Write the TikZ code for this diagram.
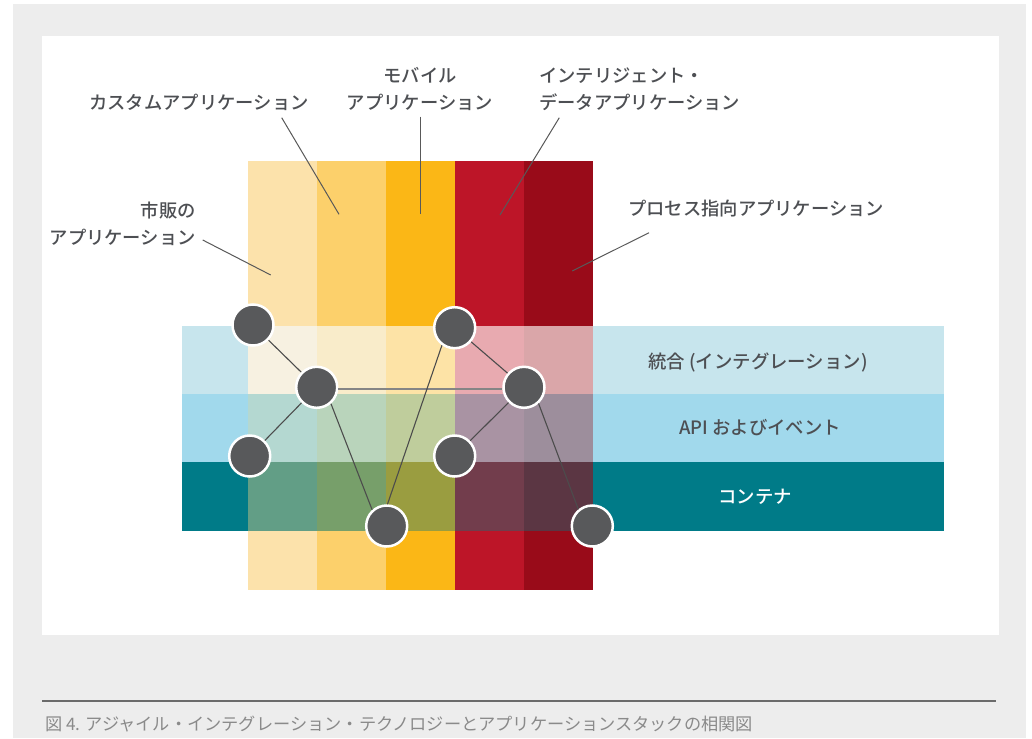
\documentclass[tikz,border=0pt]{standalone}
\usepackage{fontspec}
\setmainfont{Noto Sans CJK JP}[UprightFont=* Medium]
\newfontfamily\capfont{Noto Sans CJK JP}
\usetikzlibrary{calc}
\definecolor{bggray}{HTML}{EDEDED}
\definecolor{txt}{HTML}{4D4F53}
\definecolor{captxt}{HTML}{8A8A8A}
\definecolor{dotgray}{HTML}{58595B}
\definecolor{col1}{HTML}{FCE2AB}
\definecolor{col2}{HTML}{FCD06B}
\definecolor{col3}{HTML}{FBB716}
\definecolor{col4}{HTML}{BD1528}
\definecolor{col5}{HTML}{990B19}
\definecolor{band1}{HTML}{C7E5ED}
\definecolor{band2}{HTML}{A1D9EC}
\definecolor{band3}{HTML}{007B88}
\definecolor{ov11}{HTML}{F7F1E1}
\definecolor{ov12}{HTML}{F9ECCA}
\definecolor{ov13}{HTML}{FDE3A6}
\definecolor{ov14}{HTML}{E8AAB0}
\definecolor{ov15}{HTML}{DAA6A9}
\definecolor{ov21}{HTML}{B4D8D1}
\definecolor{ov22}{HTML}{B9D4BB}
\definecolor{ov23}{HTML}{BFCD9C}
\definecolor{ov24}{HTML}{A993A3}
\definecolor{ov25}{HTML}{9D8E9C}
\definecolor{ov31}{HTML}{629E86}
\definecolor{ov32}{HTML}{779F6A}
\definecolor{ov33}{HTML}{9A9D40}
\definecolor{ov34}{HTML}{723D4C}
\definecolor{ov35}{HTML}{5B3643}
\tikzset{
  dot/.style={circle, fill=dotgray, draw=white, line width=2.5pt, minimum size=41pt, inner sep=0pt},
  edge/.style={draw=black!70, line width=1.1pt},
  hedge/.style={draw=black!48, line width=2pt},
  leader/.style={draw=black!65, line width=1pt},
  lbl/.style={text=txt, font=\fontsize{18.3}{27}\selectfont, inner sep=0pt},
  bandlbl/.style={text=txt, font=\fontsize{18.4}{24}\selectfont, inner sep=0pt},
}
\begin{document}
\begin{tikzpicture}[x=1pt,y=-1pt]
\useasboundingbox (0,0) rectangle (1032,738);
\fill[white] (0,0) rectangle (1032,738);
\fill[bggray] (13,4) rectangle (1026,738);
\fill[white] (42,36) rectangle (999,635);
% columns
\foreach \i/\xa/\xb in {1/248/317,2/317/386,3/386/455,4/455/524,5/524/593}
  \fill[col\i] (\xa,161) rectangle (\xb,590);
% bands
\foreach \r/\ya/\yb in {1/326/394,2/394/462,3/462/530.5}
  \fill[band\r] (182,\ya) rectangle (944,\yb);
% overlaps
\foreach \r/\ya/\yb in {1/326/394,2/394/462,3/462/530.5}
  \foreach \i/\xa/\xb in {1/248/317,2/317/386,3/386/455,4/455/524,5/524/593}
    \fill[ov\r\i] (\xa,\ya) rectangle (\xb,\yb);
% nodes
\node[dot] (n1) at (253,325) {};
\node[dot] (n2) at (316.7,387.3) {};
\node[dot] (n3) at (249.7,456) {};
\node[dot] (n4) at (454.7,327.7) {};
\node[dot] (n5) at (524,387.3) {};
\node[dot] (n6) at (454.7,456) {};
\node[dot] (n7) at (386.7,526) {};
\node[dot] (n8) at (592.3,526) {};
% edges
\draw[hedge] (n2.-4) -- (n5.184);
\draw[edge] (n1) -- (n2);
\draw[edge] (n2) -- (n3);
\draw[edge] (n2.-49) -- (n7.132);
\draw[edge] (n7.88) -- (n4.-126);
\draw[edge] (n4) -- (n5);
\draw[edge] (n5) -- (n6);
\draw[edge] (n5.-48) -- (n8.130);
% labels
\node[lbl, anchor=east, align=right] (t1) at (196,223.5) {市販の\\アプリケーション};
\node[lbl] (t2) at (199,102) {カスタムアプリケーション};
\node[lbl, align=center] (t3) at (420,89) {モバイル\\アプリケーション};
\node[lbl, anchor=west, align=left] (t4) at (539,89) {インテリジェント・\\データアプリケーション};
\node[lbl, anchor=west] (t5) at (628,209) {プロセス指向アプリケーション};
\coordinate (a1) at (202.7,240); \coordinate (b1) at (270.7,275);
\coordinate (a2) at (281.7,117.7); \coordinate (b2) at (339,214.3);
\coordinate (a3) at (420,116.7); \coordinate (b3) at (420,214);
\coordinate (a4) at (559.3,117.7); \coordinate (b4) at (500,215);
\coordinate (a5) at (649,232.7); \coordinate (b5) at (572.3,271);
\foreach \k in {1,...,5} \draw[leader] (a\k) -- (b\k);
% band labels
\node[bandlbl] (bl1) at (758,362) {統合 (インテグレーション)};
\node[bandlbl] (bl2) at (760,428) {API およびイベント};
\node[bandlbl, text=white] (bl3) at (755,497) {コンテナ};
% caption
\coordinate (r1) at (42,701); \coordinate (r2) at (996,701);
\draw[draw=black!58, line width=1.5pt] (r1) -- (r2);
\node[anchor=west, inner sep=0pt, text=captxt, font=\capfont\fontsize{17.2}{20}\selectfont] (cap) at (45,724) {図 4. アジャイル・インテグレーション・テクノロジーとアプリケーションスタックの相関図};
\end{tikzpicture}
\end{document}
